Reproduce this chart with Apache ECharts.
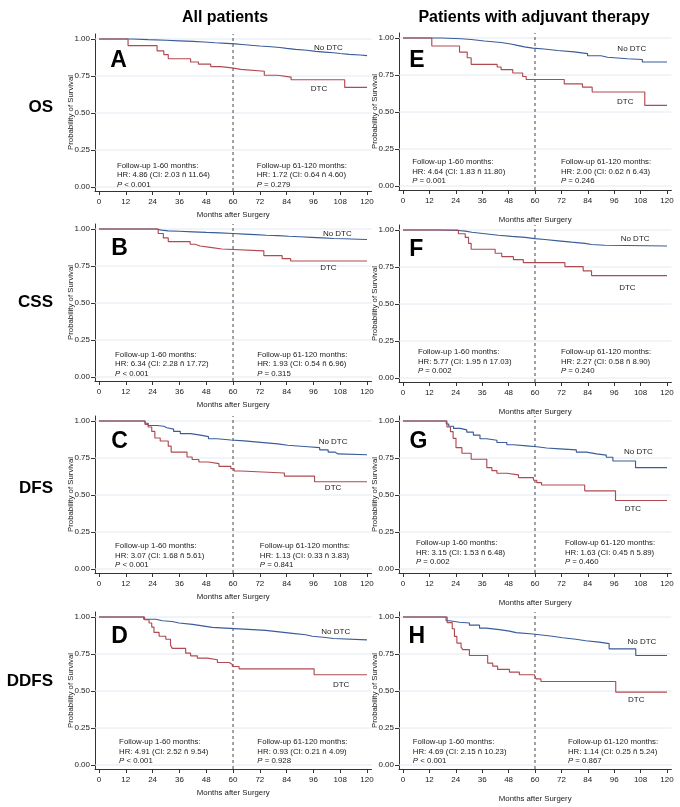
<!DOCTYPE html>
<html><head><meta charset="utf-8">
<script src="https://cdn.jsdelivr.net/npm/echarts@6/dist/echarts.min.js"></script>
<style>html,body{margin:0;padding:0;background:#fff}#c{width:680px;height:807px}</style>
</head><body><div id="c"></div>
<script>
// ---------- data ----------
const X_TICKS = [0,12,24,36,48,60,72,84,96,108,120];
const Y_TICKS = [0,0.25,0.5,0.75,1];
const COL_TITLES = ['All patients','Patients with adjuvant therapy'];
const ROW_TITLES = ['OS','CSS','DFS','DDFS'];
const PANEL_IDS = ['A','B','C','D','E','F','G','H'];
const GROUPS = ['No DTC','DTC'];

const A_NO_DTC = [[0,1],[15,0.996],[22,0.992],[30,0.988],[36,0.984],[42,0.98],[47,0.975],[52,0.971],[57,0.967],[61,0.963],[64,0.958],[68,0.953],[72,0.948],[77,0.943],[81,0.937],[84,0.93],[88,0.924],[93,0.917],[97,0.912],[101,0.907],[105,0.902],[108,0.896],[112,0.892],[117,0.888],[120,0.888]];
const A_DTC = [[0,1],[13,0.955],[26,0.92],[29,0.895],[31,0.867],[41,0.845],[44.5,0.83],[50,0.814],[54.5,0.805],[59.5,0.795],[63.5,0.782],[74,0.755],[80,0.743],[86,0.725],[110,0.673],[120,0.673]];

const B_NO_DTC = [[0,1],[25.5,0.993],[28,0.988],[31,0.985],[36,0.981],[42,0.977],[48,0.974],[54,0.97],[60,0.966],[65,0.962],[70,0.958],[75,0.955],[80,0.951],[85,0.948],[90,0.944],[95,0.94],[100,0.936],[105,0.934],[110,0.931],[116,0.929],[120,0.929]];
const B_DTC = [[0,1],[26.5,0.97],[28.8,0.94],[31,0.915],[40.8,0.897],[43,0.885],[45.3,0.876],[49.8,0.865],[55,0.852],[73.8,0.82],[82,0.80],[85.8,0.784],[120,0.784]];

const C_NO_DTC = [[0,1],[20.6,0.985],[22,0.97],[26,0.965],[29,0.955],[30.4,0.945],[33.4,0.93],[36.4,0.915],[41,0.905],[45.4,0.895],[49,0.88],[52.9,0.872],[59,0.866],[65,0.856],[72.5,0.846],[80,0.836],[84.5,0.826],[93.5,0.82],[98.8,0.805],[102.6,0.79],[105.6,0.778],[107,0.772],[120,0.772]];
const C_DTC = [[0,1],[20.6,0.977],[22,0.96],[23.6,0.93],[25,0.885],[27.4,0.865],[31,0.83],[32.3,0.79],[39.4,0.757],[41.7,0.74],[44.7,0.723],[49,0.712],[53.7,0.694],[59,0.678],[60.5,0.662],[63.5,0.649],[83,0.628],[96.5,0.59],[120,0.59]];

const D_NO_DTC = [[0,1],[20,0.985],[25.4,0.975],[28.4,0.97],[32.8,0.96],[35.8,0.95],[41.8,0.94],[46.3,0.93],[50.7,0.925],[56.7,0.92],[62.7,0.915],[68.7,0.91],[74.6,0.90],[80.6,0.89],[86.6,0.88],[92.5,0.87],[95.5,0.862],[101.5,0.855],[105,0.846],[120,0.846]];
const D_DTC = [[0,1],[20.4,0.982],[22.4,0.96],[23.6,0.932],[24.6,0.896],[26.9,0.87],[29.9,0.85],[32,0.81],[32.8,0.788],[38.8,0.756],[41,0.738],[44,0.722],[48.5,0.711],[53,0.693],[58.2,0.68],[59.7,0.666],[62.7,0.65],[96.3,0.61],[120,0.61]];

const E_NO_DTC = [[0,1],[17.4,0.995],[26.4,0.99],[31,0.98],[37,0.97],[44.6,0.96],[49,0.95],[52,0.94],[55.2,0.932],[59,0.926],[64.2,0.916],[70.3,0.906],[77.8,0.895],[83.9,0.88],[90,0.87],[93,0.86],[102,0.855],[108.8,0.838],[120,0.838]];
const E_DTC = [[0,1],[13.1,0.946],[25.7,0.905],[29.2,0.867],[31,0.822],[42.8,0.804],[44.6,0.786],[49.9,0.764],[54.4,0.74],[56,0.72],[73.3,0.69],[81.6,0.668],[86,0.635],[109.9,0.545],[120,0.545]];

const F_NO_DTC = [[0,1],[16.5,0.997],[25.2,0.993],[28.3,0.985],[31.3,0.975],[37.3,0.965],[43.4,0.957],[49.4,0.95],[55.5,0.942],[60,0.936],[64.5,0.927],[70.6,0.918],[76.6,0.91],[82.7,0.902],[85.7,0.897],[91.7,0.892],[120,0.892]];
const F_DTC = [[0,1],[25.2,0.975],[28.3,0.95],[29.8,0.91],[31,0.87],[41.9,0.843],[44.9,0.82],[50.2,0.80],[54.7,0.78],[73.6,0.753],[81.9,0.724],[85.7,0.692],[120,0.692]];

const G_NO_DTC = [[0,1],[19.7,0.98],[20.8,0.965],[23,0.95],[26,0.94],[29,0.925],[32,0.905],[35,0.88],[38,0.87],[42.7,0.855],[47.2,0.84],[50.2,0.832],[56.2,0.826],[60.8,0.818],[65.3,0.812],[71.3,0.805],[78.8,0.79],[83.4,0.778],[88,0.77],[92.4,0.755],[95.4,0.73],[105.7,0.685],[120,0.685]];
const G_DTC = [[0,1],[20,0.96],[21.6,0.928],[22.8,0.883],[24.1,0.82],[26.8,0.782],[31,0.742],[38.1,0.685],[40.4,0.665],[42.7,0.647],[47.2,0.636],[52.5,0.618],[59.3,0.60],[60.8,0.584],[63,0.568],[82.6,0.528],[96.6,0.463],[120,0.463]];

const H_NO_DTC = [[0,1],[19.6,0.975],[21.2,0.965],[25.7,0.96],[30.2,0.945],[34.8,0.925],[37.8,0.915],[43.8,0.905],[48.4,0.895],[51.4,0.885],[59,0.88],[62,0.87],[68,0.86],[72.5,0.85],[78.6,0.84],[83.1,0.83],[89.2,0.82],[93.7,0.785],[105.8,0.74],[120,0.74]];
const H_DTC = [[0,1],[20.1,0.962],[22.4,0.921],[23.4,0.869],[24.5,0.824],[26.4,0.797],[27.2,0.78],[30.2,0.74],[38.5,0.688],[40.8,0.668],[43,0.646],[48.4,0.628],[52.9,0.61],[59.7,0.598],[60.5,0.582],[62.7,0.564],[96.7,0.493],[120,0.493]];

// [HR, CI low, CI high, p] for 1-60 and 61-120 months
const A_STATS = [['4.86','2.03','11.64','< 0.001'],['1.72','0.64','4.60','= 0.279']];
const B_STATS = [['6.34','2.28','17.72','< 0.001'],['1.93','0.54','6.96','= 0.315']];
const C_STATS = [['3.07','1.68','5.61','< 0.001'],['1.13','0.33','3.83','= 0.841']];
const D_STATS = [['4.91','2.52','9.54','< 0.001'],['0.93','0.21','4.09','= 0.928']];
const E_STATS = [['4.64','1.83','11.80','= 0.001'],['2.00','0.62','6.43','= 0.246']];
const F_STATS = [['5.77','1.95','17.03','= 0.002'],['2.27','0.58','8.90','= 0.240']];
const G_STATS = [['3.15','1.53','6.48','= 0.002'],['1.63','0.45','5.89','= 0.460']];
const H_STATS = [['4.69','2.15','10.23','< 0.001'],['1.14','0.25','5.24','= 0.867']];

// ---------- layout (positions in data units of each panel) ----------
const LAYOUT = {
  A:{col:0,top:34, letter:[8.8,0.857], no:[102.7,0.941], dtc:[98.5,0.665], tl:[8,0.178], tr:[70.6,0.178]},
  B:{col:0,top:224,letter:[9.2,0.865], no:[106.7,0.966], dtc:[102.7,0.736], tl:[7.2,0.185], tr:[70.8,0.185]},
  C:{col:0,top:416,letter:[9.2,0.86],  no:[104.8,0.858], dtc:[104.8,0.547], tl:[7.2,0.187], tr:[72,0.187]},
  D:{col:0,top:612,letter:[9.2,0.87],  no:[106,0.9],     dtc:[108.4,0.54],  tl:[9,0.187],   tr:[70.9,0.187]},
  E:{col:1,top:33, letter:[6.3,0.85],  no:[104,0.926],   dtc:[101,0.568],   tl:[4.2,0.194], tr:[71.8,0.194]},
  F:{col:1,top:225,letter:[6,0.865],   no:[105.5,0.94],  dtc:[102,0.608],   tl:[6.8,0.208], tr:[71.8,0.208]},
  G:{col:1,top:416,letter:[7,0.86],    no:[107,0.79],    dtc:[104.5,0.41],  tl:[5.9,0.208], tr:[73.6,0.208]},
  H:{col:1,top:612,letter:[6.3,0.87],  no:[108.6,0.83],  dtc:[106,0.44],    tl:[4.5,0.186], tr:[75,0.186]}
};
const COLS = [{left:95,width:276.5,nameGap:20},{left:399,width:272.4,nameGap:26}];
const DATA = {
  A:[A_NO_DTC,A_DTC,A_STATS], B:[B_NO_DTC,B_DTC,B_STATS], C:[C_NO_DTC,C_DTC,C_STATS], D:[D_NO_DTC,D_DTC,D_STATS],
  E:[E_NO_DTC,E_DTC,E_STATS], F:[F_NO_DTC,F_DTC,F_STATS], G:[G_NO_DTC,G_DTC,G_STATS], H:[H_NO_DTC,H_DTC,H_STATS]
};

const FONT = "'Liberation Sans', Arial, Helvetica, sans-serif";
const TXT = '#1a1a1a';
const BLUE = '#3a5c98', RED = '#b04a52';
const X_MIN = -1.8, X_MAX = 122, Y_MIN = -0.027, Y_MAX = 1.034;

const grid = [], xAxis = [], yAxis = [], series = [];
PANEL_IDS.forEach((id, i) => {
  const L = LAYOUT[id], C = COLS[L.col];
  const [noDtc, dtc] = DATA[id];
  grid.push({left:C.left, top:L.top, width:C.width, height:157, containLabel:false, outerBoundsMode:'none'});
  xAxis.push({
    type:'value', gridIndex:i, min:X_MIN, max:X_MAX,
    axisLine:{show:true, onZero:false, lineStyle:{color:'#333', width:1}},
    axisTick:{show:true, length:4, customValues:X_TICKS, lineStyle:{color:'#333'}},
    axisLabel:{show:true, customValues:X_TICKS, margin:7, fontSize:8, color:TXT, fontFamily:FONT},
    splitLine:{show:false},
    name:'Months after Surgery', nameLocation:'middle', nameGap:C.nameGap, nameMoveOverlap:false,
    nameTextStyle:{fontSize:7.8, color:TXT, fontFamily:FONT}
  });
  yAxis.push({
    type:'value', gridIndex:i, min:Y_MIN, max:Y_MAX,
    axisLine:{show:true, onZero:false, lineStyle:{color:'#333', width:1}},
    axisTick:{show:true, length:4, customValues:Y_TICKS, lineStyle:{color:'#333'}},
    axisLabel:{show:true, customValues:Y_TICKS, margin:5, fontSize:8, color:TXT, fontFamily:FONT,
      formatter:v => Number(v).toFixed(2)},
    splitLine:{show:false},
    name:'Probability of Survival', nameLocation:'middle', nameGap:20, nameMoveOverlap:false,
    nameTextStyle:{fontSize:7.8, color:TXT, fontFamily:FONT}
  });
  // horizontal gridlines at the y ticks (below the curves)
  Y_TICKS.forEach(v => series.push({
    type:'line', xAxisIndex:i, yAxisIndex:i, data:[[X_MIN, v],[X_MAX, v]], z:1, silent:true,
    showSymbol:false, lineStyle:{color:'#e2eaf2', width:1}
  }));
  // dashed reference line at 60 months
  series.push({
    type:'line', xAxisIndex:i, yAxisIndex:i, data:[[60, Y_MIN],[60, Y_MAX]], z:2, silent:true,
    showSymbol:false, lineStyle:{color:'#444', width:1, type:[3,3]}
  });
  series.push({type:'line', name:GROUPS[0], xAxisIndex:i, yAxisIndex:i, data:noDtc, step:'end',
    showSymbol:false, z:3, silent:true, lineStyle:{color:BLUE, width:1.15}, itemStyle:{color:BLUE}});
  series.push({type:'line', name:GROUPS[1], xAxisIndex:i, yAxisIndex:i, data:dtc, step:'end',
    showSymbol:false, z:4, silent:true, lineStyle:{color:RED, width:1.15}, itemStyle:{color:RED}});
});

const ROW_Y = [107, 302, 488, 681];
const staticGraphic = [
  {type:'text', x:225, y:18, style:{text:COL_TITLES[0], font:'bold 16px ' + FONT, fill:'#000', align:'center', verticalAlign:'middle'}},
  {type:'text', x:534, y:18, style:{text:COL_TITLES[1], font:'bold 16px ' + FONT, fill:'#000', align:'center', verticalAlign:'middle'}},
  ...ROW_TITLES.map((t, k) => ({type:'text', x:53, y:ROW_Y[k],
    style:{text:t, font:'bold 17px ' + FONT, fill:'#000', align:'right', verticalAlign:'middle'}}))
];

const chart = echarts.init(document.getElementById('c'), null, {renderer:'canvas'});
chart.setOption({
  animation:false, backgroundColor:'#fff', tooltip:{show:false},
  textStyle:{fontFamily:FONT},
  grid, xAxis, yAxis, series, graphic:staticGraphic
});

// panel annotations, placed through each panel's scales
const annot = [];
PANEL_IDS.forEach((id, i) => {
  const L = LAYOUT[id];
  const stats = DATA[id][2];
  const px = p => chart.convertToPixel({gridIndex:i}, p);
  const center = (p, text, font, fill) => {
    const q = px(p);
    annot.push({type:'text', x:q[0], y:q[1], z:10,
      style:{text:text, font:font, fill:fill, align:'center', verticalAlign:'middle'}});
  };
  center(L.letter, id, 'bold 23px ' + FONT, '#000');
  center(L.no, GROUPS[0], '8px ' + FONT, TXT);
  center(L.dtc, GROUPS[1], '8px ' + FONT, TXT);
  const block = (p, head, s) => {
    const q = px(p);
    annot.push({type:'text', x:q[0], y:q[1], z:10,
      style:{
        text:'{t|' + head + '}\n{t|HR: ' + s[0] + ' (CI: ' + s[1] + ' ñ ' + s[2] + ')}\n{i|P}{t| ' + s[3] + '}',
        align:'left', verticalAlign:'top',
        rich:{
          t:{fontSize:7.8, lineHeight:9.5, fill:TXT, fontFamily:FONT},
          i:{fontSize:7.8, lineHeight:9.5, fill:TXT, fontFamily:FONT, fontStyle:'italic'}
        }
      }});
  };
  block(L.tl, 'Follow-up 1-60 months:', stats[0]);
  block(L.tr, 'Follow-up 61-120 months:', stats[1]);
});
chart.setOption({graphic: staticGraphic.concat(annot)});
</script></body></html>
